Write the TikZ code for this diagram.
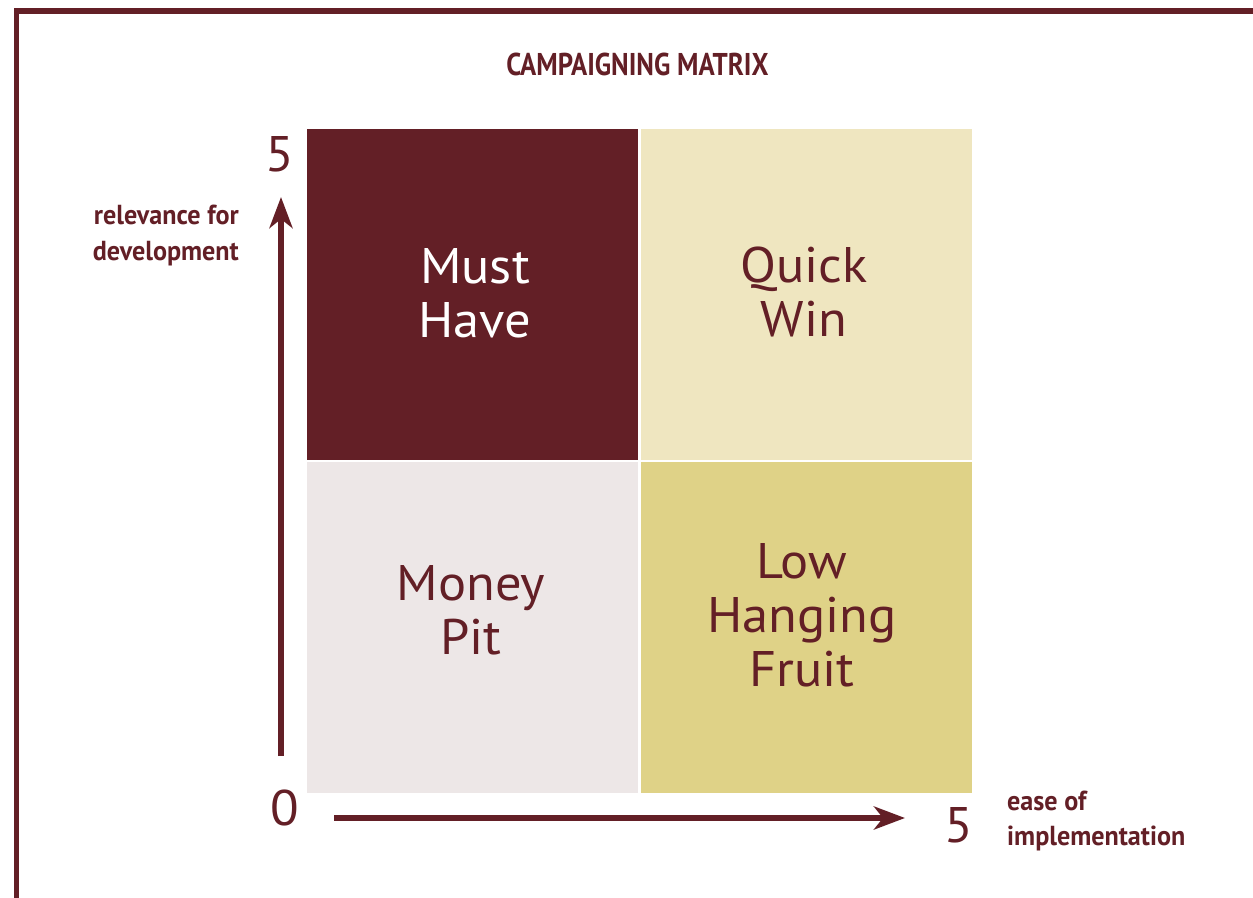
\documentclass[tikz,border=0pt]{standalone}
\usepackage{fontspec}
\setmainfont{PT Sans}[FakeStretch=1.05]
\newfontfamily\condfont{PT Sans}[FakeStretch=0.85]
\newfontfamily\labelfont{PT Sans}[FakeStretch=0.95]
\usetikzlibrary{arrows.meta}
\definecolor{maroon}{HTML}{631F26}
\definecolor{quickcol}{HTML}{EFE6C0}
\definecolor{moneycol}{HTML}{EDE7E7}
\definecolor{lowcol}{HTML}{DFD287}
\tikzset{
  frameline/.style={draw=maroon, line width=5.5pt, line join=miter, line cap=rect},
  cell/.style={inner sep=0pt, minimum width=331pt, minimum height=331pt, draw=none},
  celltext/.style={inner sep=0pt, align=center, font=\fontsize{50}{54}\selectfont},
  numtext/.style={inner sep=0pt, text=maroon, font=\fontsize{50}{54}\selectfont},
  axislabel/.style={inner sep=0pt, text=maroon, font=\labelfont\bfseries\fontsize{27.5}{35.5}\selectfont},
  titletext/.style={inner sep=0pt, text=maroon, font=\condfont\bfseries\fontsize{31.5}{36}\selectfont},
  axis/.style={draw=maroon, line width=6pt, -{Stealth[length=31pt, width=23pt, inset=9pt]}}
}
\begin{document}
\begin{tikzpicture}[x=1pt, y=-1pt]
\useasboundingbox (0,0) rectangle (1253,897);
% frame
\coordinate (fbl) at (16.5,900);
\coordinate (ftl) at (16.5,11);
\coordinate (ftr) at (1256,11);
\draw[frameline] (fbl) -- (ftl) -- (ftr);
% title
\node[titletext] (title) at (637.5,64) {CAMPAIGNING MATRIX};
% cells
\node[cell, fill=maroon] (musthave) at (472.5,294.5) {};
\node[cell, fill=quickcol] (quickwin) at (806.5,294.5) {};
\node[cell, fill=moneycol] (moneypit) at (472.5,627.5) {};
\node[cell, fill=lowcol] (lowhanging) at (806.5,627.5) {};
% cell texts
\node[celltext, text=white] (mhtext) at (475,293) {Must\\Have};
\node[celltext, text=maroon] (qwtext) at (804,291.5) {Quick\\Win};
\node[celltext, text=maroon] (mptext) at (471,610) {Money\\Pit};
\node[celltext, text=maroon] (lhtext) at (802,615.5) {Low\\Hanging\\Fruit};
% axes
\coordinate (ybottom) at (281,756);
\coordinate (ytop) at (281,197);
\draw[axis] (ybottom) -- (ytop);
\coordinate (xleft) at (334,818);
\coordinate (xright) at (905,818);
\draw[axis] (xleft) -- (xright);
% numbers
\node[numtext] (ymax) at (279.5,154.5) {5};
\node[numtext] (origin) at (285,808) {0};
\node[numtext] (xmax) at (958.5,825) {5};
% axis labels
\node[axislabel, align=right, anchor=east] (ylabel) at (239,235.5) {relevance for\\development};
\node[axislabel, align=left, anchor=west] (xlabel) at (1007,821) {ease of\\implementation};
\end{tikzpicture}
\end{document}
